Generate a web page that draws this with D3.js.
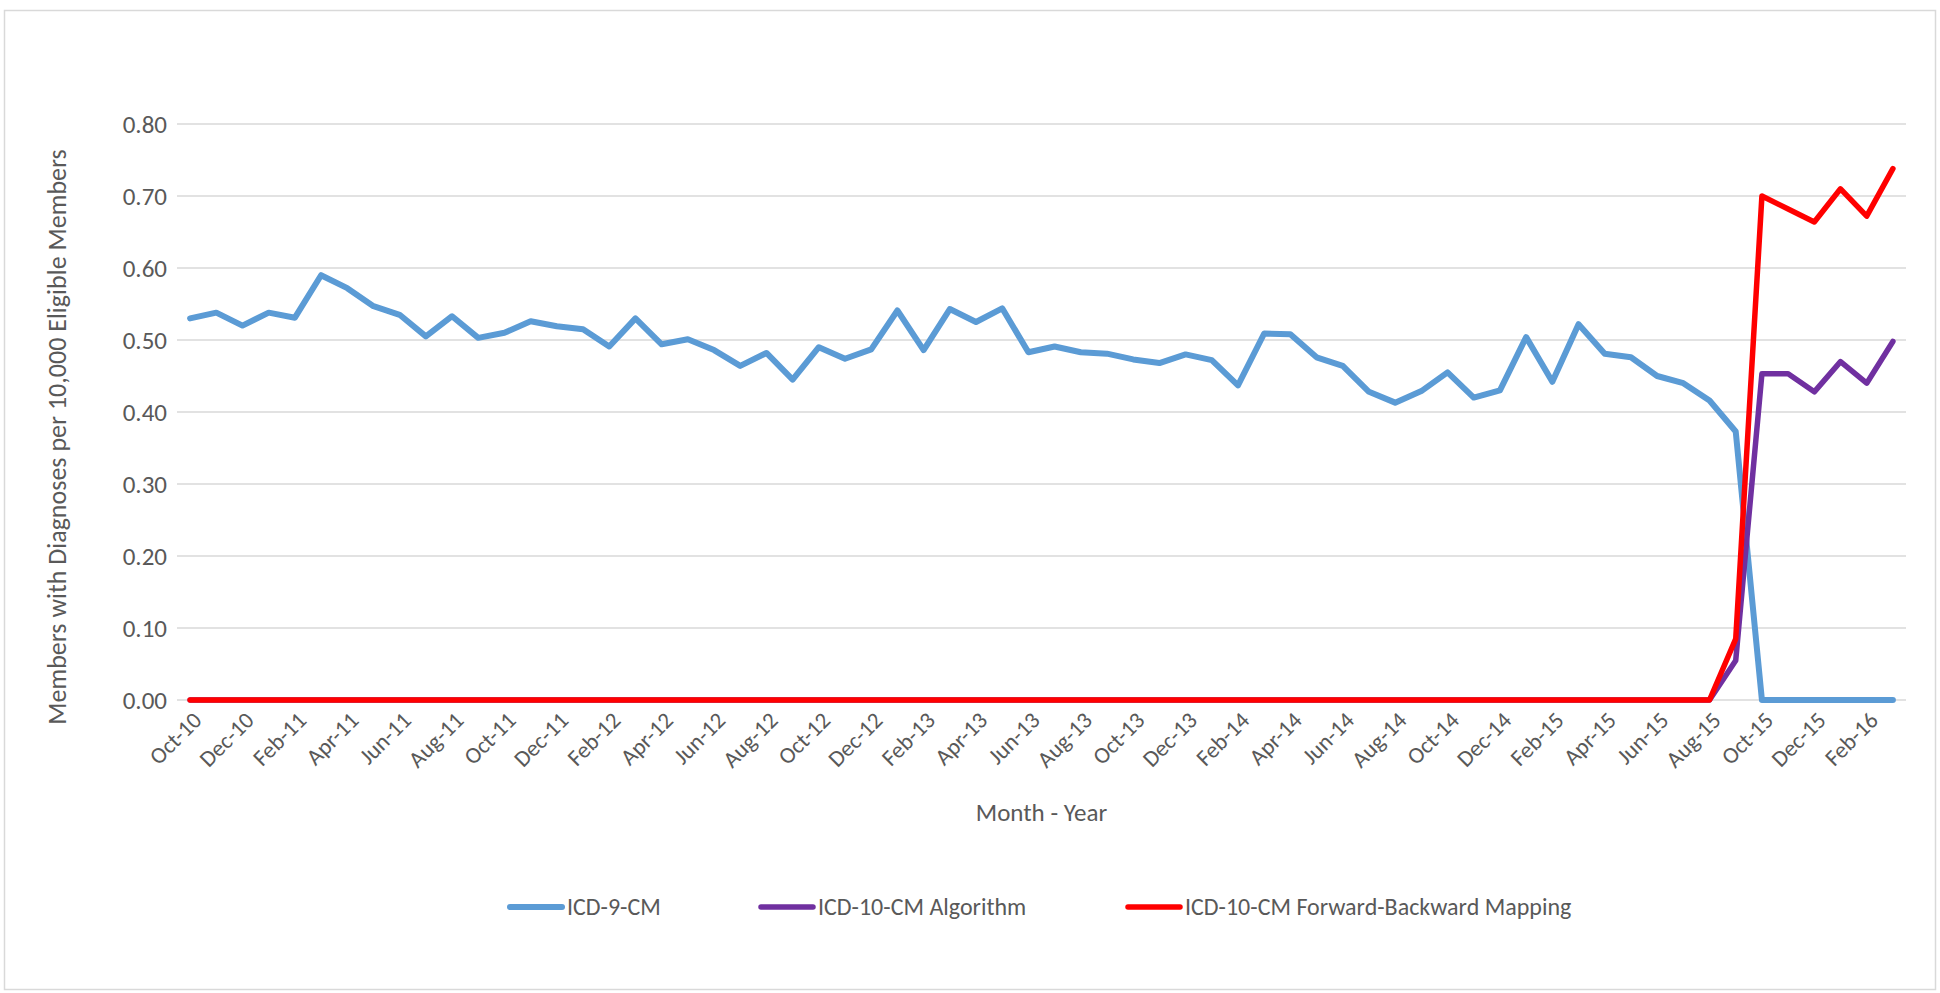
<!DOCTYPE html>
<html>
<head>
<meta charset="utf-8">
<script src="https://cdn.jsdelivr.net/npm/d3@7"></script>
<style>
  body { margin: 0; background: #fff; }
  text { font-family: Carlito, Calibri, Lato, sans-serif; fill: #595959; }
</style>
</head>
<body>
<script>
// Months on the category axis (Oct-10 .. Mar-16)
const months = [
  "Oct-10","Nov-10","Dec-10","Jan-11","Feb-11","Mar-11","Apr-11","May-11","Jun-11","Jul-11","Aug-11","Sep-11",
  "Oct-11","Nov-11","Dec-11","Jan-12","Feb-12","Mar-12","Apr-12","May-12","Jun-12","Jul-12","Aug-12","Sep-12",
  "Oct-12","Nov-12","Dec-12","Jan-13","Feb-13","Mar-13","Apr-13","May-13","Jun-13","Jul-13","Aug-13","Sep-13",
  "Oct-13","Nov-13","Dec-13","Jan-14","Feb-14","Mar-14","Apr-14","May-14","Jun-14","Jul-14","Aug-14","Sep-14",
  "Oct-14","Nov-14","Dec-14","Jan-15","Feb-15","Mar-15","Apr-15","May-15","Jun-15","Jul-15","Aug-15","Sep-15",
  "Oct-15","Nov-15","Dec-15","Jan-16","Feb-16","Mar-16"
];

const icd9 = [
  0.530,0.538,0.520,0.538,0.531,0.590,0.572,0.547,0.535,0.505,0.533,0.503,
  0.510,0.526,0.519,0.515,0.491,0.530,0.494,0.501,0.486,0.464,0.482,0.445,
  0.490,0.474,0.487,0.541,0.486,0.543,0.525,0.544,0.483,0.491,0.483,0.481,
  0.473,0.468,0.480,0.472,0.437,0.509,0.508,0.476,0.464,0.428,0.413,0.429,
  0.455,0.420,0.430,0.504,0.442,0.522,0.481,0.476,0.450,0.440,0.416,0.373,
  0.000,0.000,0.000,0.000,0.000,0.000
];

const icd10Algorithm = [
  0,0,0,0,0,0,0,0,0,0,0,0,
  0,0,0,0,0,0,0,0,0,0,0,0,
  0,0,0,0,0,0,0,0,0,0,0,0,
  0,0,0,0,0,0,0,0,0,0,0,0,
  0,0,0,0,0,0,0,0,0,0,0,0.055,
  0.453,0.453,0.428,0.470,0.440,0.498
];

const icd10Mapping = [
  0,0,0,0,0,0,0,0,0,0,0,0,
  0,0,0,0,0,0,0,0,0,0,0,0,
  0,0,0,0,0,0,0,0,0,0,0,0,
  0,0,0,0,0,0,0,0,0,0,0,0,
  0,0,0,0,0,0,0,0,0,0,0,0.085,
  0.700,0.682,0.664,0.710,0.672,0.738
];

const yTicks = [0, 0.1, 0.2, 0.3, 0.4, 0.5, 0.6, 0.7, 0.8];

const series = [
  {name: "ICD-9-CM", values: icd9, color: "#5B9BD5", width: 6},
  {name: "ICD-10-CM Algorithm", values: icd10Algorithm, color: "#7030A0", width: 5.5},
  {name: "ICD-10-CM Forward-Backward Mapping", values: icd10Mapping, color: "#FF0000", width: 5.5}
];

const W = 1940, H = 993;
const plot = {left: 177, right: 1906, top: 124, bottom: 700};
const fontFam = "Carlito, Calibri, Lato, sans-serif";

const svg = d3.select("body").append("svg")
    .attr("width", W)
    .attr("height", H);

// chart border
svg.append("rect")
    .attr("x", 4.5).attr("y", 10.5)
    .attr("width", W - 9).attr("height", H - 14)
    .attr("fill", "none")
    .attr("stroke", "#d9d9d9")
    .attr("stroke-width", 1.5);

const x = d3.scaleBand().domain(months).range([plot.left, plot.right]).padding(0);
const y = d3.scaleLinear().domain([0, 0.8]).range([plot.bottom, plot.top]);
const cx = d => x(d) + x.bandwidth() / 2;

// gridlines
svg.append("g")
    .selectAll("line")
    .data(yTicks)
    .join("line")
    .attr("x1", plot.left).attr("x2", plot.right)
    .attr("y1", d => y(d)).attr("y2", d => y(d))
    .attr("stroke", "#d9d9d9")
    .attr("stroke-width", 1.5);

// y axis labels
const yAxis = svg.append("g")
    .attr("transform", `translate(${plot.left - 7},0)`)
    .call(d3.axisLeft(y).tickValues(yTicks).tickFormat(d3.format(".2f")).tickSize(0));
yAxis.select(".domain").remove();
yAxis.selectAll("text")
    .attr("dy", "0.35em")
    .style("font-size", "25px")
    .style("font-family", fontFam)
    .attr("fill", "#595959");

// x axis labels, every other month, rotated
const xAxis = svg.append("g")
    .attr("transform", `translate(0,${plot.bottom})`)
    .call(d3.axisBottom(x).tickValues(months.filter((d, i) => i % 2 === 0)).tickSize(0));
xAxis.select(".domain").remove();
xAxis.selectAll("text")
    .attr("text-anchor", "end")
    .attr("dy", "0.35em")
    .attr("transform", "translate(5,14) rotate(-45)")
    .style("font-size", "23px")
    .style("font-family", fontFam)
    .attr("fill", "#595959");

// lines
const line = d3.line()
    .x((d, i) => cx(months[i]))
    .y(d => y(d));

svg.append("g")
    .selectAll("path")
    .data(series)
    .join("path")
    .attr("d", d => line(d.values))
    .attr("fill", "none")
    .attr("stroke", d => d.color)
    .attr("stroke-width", d => d.width)
    .attr("stroke-linejoin", "round")
    .attr("stroke-linecap", "round");

// axis titles
svg.append("text")
    .attr("transform", "translate(57,437) rotate(-90)")
    .attr("text-anchor", "middle")
    .attr("dy", "0.35em")
    .style("font-size", "26px")
    .text("Members with Diagnoses per 10,000 Eligible Members");

svg.append("text")
    .attr("x", (plot.left + plot.right) / 2)
    .attr("y", 812)
    .attr("text-anchor", "middle")
    .attr("dy", "0.35em")
    .style("font-size", "25px")
    .text("Month - Year");

// legend
const legendX = [510, 761, 1128];
const legend = svg.append("g")
    .selectAll("g")
    .data(series)
    .join("g")
    .attr("transform", (d, i) => `translate(${legendX[i]},907)`);

legend.append("line")
    .attr("x1", 0).attr("x2", 52)
    .attr("y1", 0).attr("y2", 0)
    .attr("stroke", d => d.color)
    .attr("stroke-width", d => d.width)
    .attr("stroke-linecap", "round");

legend.append("text")
    .attr("x", 57)
    .attr("dy", "0.35em")
    .style("font-size", "24px")
    .text(d => d.name);
</script>
</body>
</html>
